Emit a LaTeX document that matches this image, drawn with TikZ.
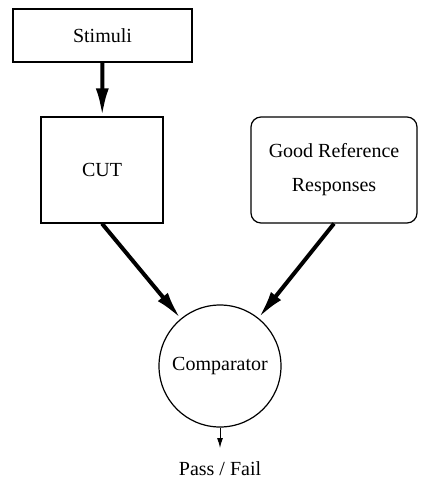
\documentclass[tikz,border=0pt]{standalone}
\usepackage{fontspec}
\setmainfont{Liberation Serif}
\usetikzlibrary{arrows.meta}

\begin{document}
\begin{tikzpicture}[x=0.5pt,y=-0.5pt,
    blk/.style={draw,line width=0.6pt,inner sep=0pt},
    thick arrow/.style={line width=2pt,-{Latex[length=14pt,width=6.5pt]}},
    thin arrow/.style={line width=0.5pt,-{Latex[length=5pt,width=3pt]}}]
    \useasboundingbox (0,0) rectangle (422,481);
    \node[blk,minimum width=89.5pt,minimum height=26.5pt] (S) at (102.5,35.5) {Stimuli};
    \node[blk,minimum width=61pt,minimum height=53pt] (C) at (102,170) {CUT};
    \node[blk,rounded corners=5pt,minimum width=83pt,minimum height=53pt,align=center] (G) at (334,170) {Good Reference\\[5pt]Responses};
    \node[blk,circle,minimum size=61pt] (K) at (220,366) {Comparator};
    \node (P) at (220,469) {Pass / Fail};
    \coordinate (pf) at (220,448);
    \path (S) edge[thick arrow] (C);
    \path (C.south) edge[thick arrow] (K);
    \path (G.south) edge[thick arrow] (K);
    \path (K) edge[thin arrow] (pf);
  \end{tikzpicture}
\end{document}
